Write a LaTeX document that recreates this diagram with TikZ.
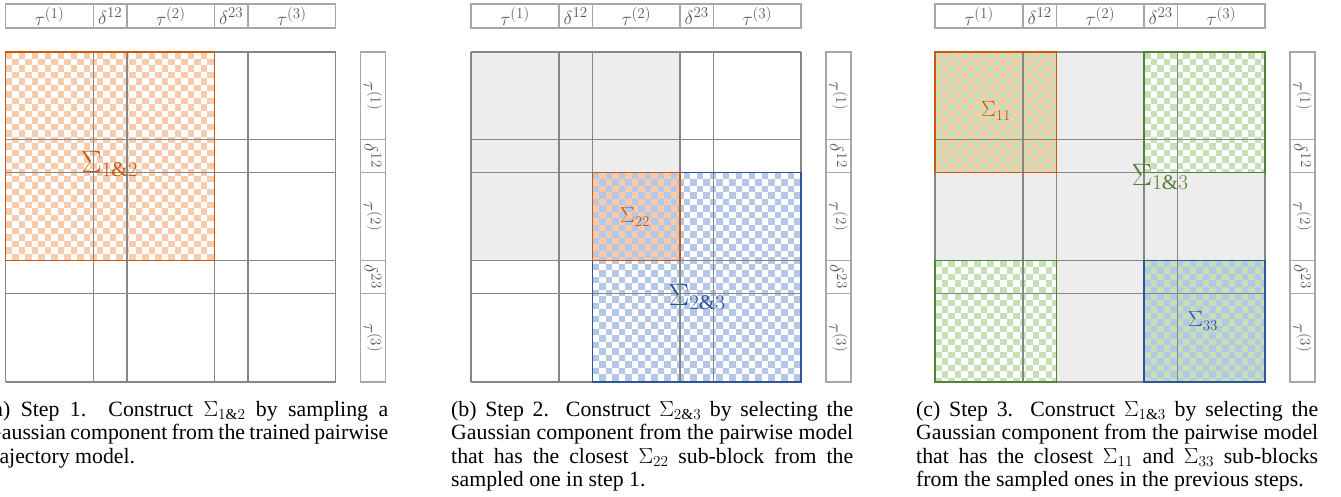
\RequirePackage{fix-cm}
\documentclass[tikz,border=0pt]{standalone}
\usepackage{fontspec}
\setmainfont{Liberation Serif}
\DeclareMathSizes{31}{31}{21}{15}
\DeclareMathSizes{22}{22}{15}{11}
\DeclareMathSizes{19}{19}{15}{11}
\definecolor{orL}{HTML}{F8CBAD}
\definecolor{orD}{HTML}{C55A11}
\definecolor{blL}{HTML}{B4C7E7}
\definecolor{blD}{HTML}{2F5597}
\definecolor{grL}{HTML}{C5E0B4}
\definecolor{grD}{HTML}{548235}
\definecolor{gyF}{HTML}{EDEDED}
\definecolor{gyL}{HTML}{868686}
\definecolor{gyH}{HTML}{A6A6A6}
\definecolor{gyT}{HTML}{595959}
\newcommand\mychecker[5]{%
 \begin{scope}
 \clip (#2,#3) rectangle (#4,#5);
 \pgfmathtruncatemacro\nrows{ceil((#5-#3)/6.5)}
 \foreach \k in {0,...,\nrows} {
   \pgfmathsetmacro\yy{#3+(\k+0.5)*6.5}
   \pgfmathsetmacro\ph{mod(\k,2)*6.5}
   \draw[#1, line width=6.5pt, dash pattern=on 6.5pt off 6.5pt, dash phase=\ph pt] (#2,\yy) -- (#4,\yy);
 }
 \end{scope}}
\newcommand\mygrid[1]{%
 \foreach \c in {0,88,121.5,209,242.5,330} \draw[gridline] (#1+\c,52) -- (#1+\c,382);
 \foreach \r in {52,139.5,172.5,260.5,293.5,382} \draw[gridline] (#1,\r) -- (#1+330,\r);
}
\newcommand\myhead[2]{%
 \draw[hdrbox] (#1,4) rectangle (#1+330,28);
 \foreach \c in {88,121.5,209,242.5} \draw[hdrbox] (#1+\c,4) -- (#1+\c,28);
 \node[hdrlab] (#2h1) at (#1+44,16) {$\tau^{(1)}$};
 \node[hdrlab] (#2h2) at (#1+104.75,16) {$\delta^{12}$};
 \node[hdrlab] (#2h3) at (#1+165.25,16) {$\tau^{(2)}$};
 \node[hdrlab] (#2h4) at (#1+225.75,16) {$\delta^{23}$};
 \node[hdrlab] (#2h5) at (#1+286.25,16) {$\tau^{(3)}$};
 \draw[hdrbox] (#1+355,52) rectangle (#1+380,382);
 \foreach \r in {139.5,172.5,260.5,293.5} \draw[hdrbox] (#1+355,\r) -- (#1+380,\r);
 \node[hdrlab,rotate=-90] (#2s1) at (#1+367.5,95.75) {$\tau^{(1)}$};
 \node[hdrlab,rotate=-90] (#2s2) at (#1+367.5,156) {$\delta^{12}$};
 \node[hdrlab,rotate=-90] (#2s3) at (#1+367.5,216.5) {$\tau^{(2)}$};
 \node[hdrlab,rotate=-90] (#2s4) at (#1+367.5,277) {$\delta^{23}$};
 \node[hdrlab,rotate=-90] (#2s5) at (#1+367.5,337.75) {$\tau^{(3)}$};
}
\begin{document}
\begin{tikzpicture}[x=1pt,y=-1pt,
  gridline/.style={draw=gyL, line width=1.3pt},
  hdrbox/.style={draw=gyH, line width=1.1pt},
  hdrlab/.style={text=gyT, font=\fontsize{19}{21}\selectfont, inner sep=0pt},
  blockborder/.style={line width=1.6pt},
  biglab/.style={font=\fontsize{31}{33}\selectfont, inner sep=0pt},
  smlab/.style={font=\fontsize{22}{24}\selectfont, inner sep=0pt},
  capt/.style={text width=402pt, align=justify, inner sep=0pt, anchor=base west,
     font=\fontsize{21.8}{23.6}\selectfont}]
\useasboundingbox (0,0) rectangle (1341,496);
\fill[white] (0,0) rectangle (1341,496);
% ---------- panel a ----------
\def\X{5.5}
\mychecker{orL}{\X}{52}{\X+209}{260.5}
\mygrid{\X}
\draw[blockborder, orD] (\X,52) rectangle (\X+209,260.5);
\node[biglab, text=orD] (la) at (\X+104,164) {$\Sigma_{1\&2}$};
\myhead{\X}{a}
% ---------- panel b ----------
\def\X{471}
\fill[gyF] (\X,52) rectangle (\X+209,260.5);
\fill[orL] (\X+121.5,172.5) rectangle (\X+209,260.5);
\mychecker{blL}{\X+121.5}{172.5}{\X+330}{382}
\mygrid{\X}
\draw[blockborder, blD] (\X+121.5,172.5) rectangle (\X+330,382);
\draw[blockborder, orD] (\X+121.5,172.5) rectangle (\X+209,260.5);
\node[smlab, text=orD] (lb1) at (635,217) {$\Sigma_{22}$};
\node[biglab, text=blD] (lb2) at (697,297) {$\Sigma_{2\&3}$};
\myhead{\X}{b}
% ---------- panel c ----------
\def\X{935}
\fill[gyF] (\X,52) rectangle (\X+330,382);
\fill[white] (\X+209,52) rectangle (\X+330,172.5);
\fill[white] (\X,260.5) rectangle (\X+121.5,382);
\fill[orL] (\X,52) rectangle (\X+121.5,172.5);
\fill[blL] (\X+209,260.5) rectangle (\X+330,382);
\mychecker{grL}{\X}{52}{\X+121.5}{172.5}
\mychecker{grL}{\X+209}{52}{\X+330}{172.5}
\mychecker{grL}{\X}{260.5}{\X+121.5}{382}
\mychecker{grL}{\X+209}{260.5}{\X+330}{382}
\mygrid{\X}
\draw[blockborder, orD] (\X,52) rectangle (\X+121.5,172.5);
\draw[blockborder, grD] (\X+209,52) rectangle (\X+330,172.5);
\draw[blockborder, grD] (\X,260.5) rectangle (\X+121.5,382);
\draw[blockborder, blD] (\X+209,260.5) rectangle (\X+330,382);
\node[smlab, text=orD] (lc1) at (996,111) {$\Sigma_{11}$};
\node[biglab, text=grD] (lc2) at (1160,177) {$\Sigma_{1\&3}$};
\node[smlab, text=blD] (lc3) at (1203,321) {$\Sigma_{33}$};
\myhead{\X}{c}
% ---------- captions ----------
\node[capt] (capa) at (-14,416) {(a) Step 1. Construct $\Sigma_{1\&2}$ by sampling a\linebreak Gaussian component from the trained pairwise\linebreak trajectory model.};
\node[capt] (capb) at (451,416) {(b) Step 2. Construct $\Sigma_{2\&3}$ by selecting the\linebreak Gaussian component from the pairwise model\linebreak that has the closest $\Sigma_{22}$ sub-block from the\linebreak sampled one in step 1.};
\node[capt] (capc) at (916,416) {(c) Step 3. Construct $\Sigma_{1\&3}$ by selecting the\linebreak Gaussian component from the pairwise model\linebreak that has the closest $\Sigma_{11}$ and $\Sigma_{33}$ sub-blocks\linebreak from the sampled ones in the previous steps.};
\end{tikzpicture}
\end{document}
